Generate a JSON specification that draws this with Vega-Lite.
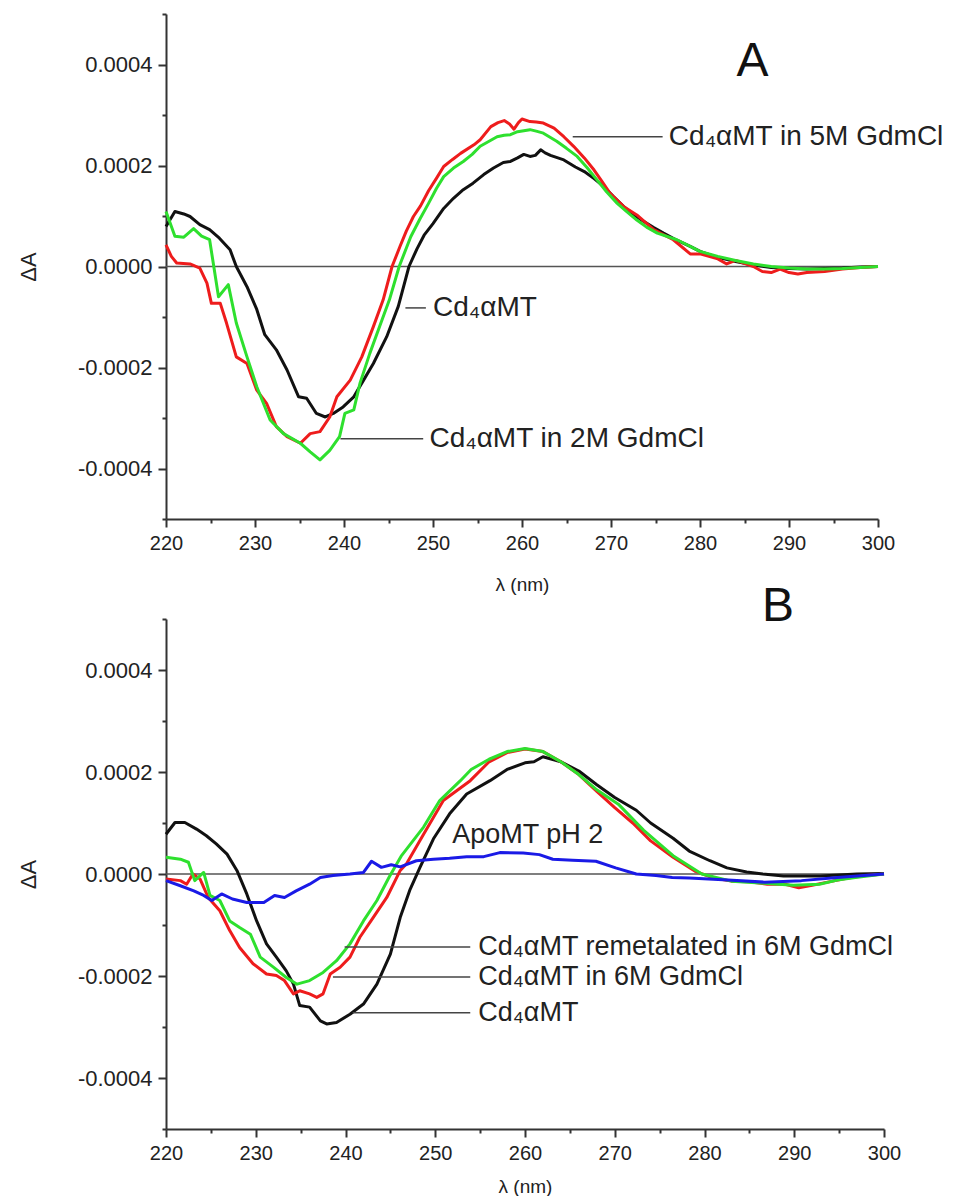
{
  "$schema": "https://vega.github.io/schema/vega-lite/v6.json",
  "padding": {"left": 17, "top": 3, "right": 0, "bottom": 0},
  "background": "white",
  "config": {
    "view": {"stroke": null},
    "font": "Liberation Sans",
    "concat": {"spacing": 100},
    "axis": {
      "grid": false,
      "domainColor": "#333333",
      "domainWidth": 2,
      "tickColor": "#333333",
      "tickWidth": 2,
      "labelFont": "Liberation Sans",
      "labelFontSize": 20,
      "labelColor": "#222222",
      "labelPadding": 6,
      "labelOverlap": false,
      "labelFlush": false,
      "titleFont": "Liberation Sans",
      "titleFontSize": 20,
      "titleFontWeight": "normal",
      "titleColor": "#222222"
    }
  },
  "bounds": "flush",
  "datasets": {
    "zero": [{"y": 0}],
    "curvesA": [
      {"s":"k","x":220,"y":0.79e-4},{"s":"k","x":221,"y":1.09e-4},{"s":"k","x":222,"y":1.04e-4},{"s":"k","x":222.7,"y":0.99e-4},{"s":"k","x":223.8,"y":0.83e-4},{"s":"k","x":224.9,"y":0.73e-4},{"s":"k","x":226,"y":0.56e-4},{"s":"k","x":227.2,"y":0.33e-4},{"s":"k","x":227.9,"y":0.0},{"s":"k","x":229.1,"y":-0.40e-4},{"s":"k","x":230.2,"y":-0.85e-4},{"s":"k","x":231.1,"y":-1.35e-4},{"s":"k","x":232.4,"y":-1.65e-4},{"s":"k","x":233.6,"y":-2.05e-4},{"s":"k","x":234.9,"y":-2.58e-4},{"s":"k","x":235.8,"y":-2.61e-4},{"s":"k","x":236.9,"y":-2.91e-4},{"s":"k","x":237.9,"y":-2.98e-4},{"s":"k","x":238.8,"y":-2.91e-4},{"s":"k","x":239.9,"y":-2.78e-4},{"s":"k","x":241.1,"y":-2.58e-4},{"s":"k","x":242.2,"y":-2.25e-4},{"s":"k","x":243.3,"y":-1.92e-4},{"s":"k","x":244.8,"y":-1.39e-4},{"s":"k","x":246.1,"y":-0.79e-4},{"s":"k","x":247.3,"y":0.0},{"s":"k","x":248.2,"y":0.35e-4},{"s":"k","x":249.0,"y":0.62e-4},{"s":"k","x":250.0,"y":0.85e-4},{"s":"k","x":251.2,"y":1.15e-4},{"s":"k","x":252.3,"y":1.35e-4},{"s":"k","x":253.4,"y":1.52e-4},{"s":"k","x":254.5,"y":1.65e-4},{"s":"k","x":255.7,"y":1.82e-4},{"s":"k","x":256.8,"y":1.95e-4},{"s":"k","x":257.9,"y":2.06e-4},{"s":"k","x":258.7,"y":2.08e-4},{"s":"k","x":259.5,"y":2.15e-4},{"s":"k","x":260.2,"y":2.22e-4},{"s":"k","x":260.9,"y":2.18e-4},{"s":"k","x":261.5,"y":2.20e-4},{"s":"k","x":262.1,"y":2.31e-4},{"s":"k","x":262.6,"y":2.25e-4},{"s":"k","x":263.2,"y":2.20e-4},{"s":"k","x":264.7,"y":2.11e-4},{"s":"k","x":266,"y":1.97e-4},{"s":"k","x":267,"y":1.88e-4},{"s":"k","x":268.1,"y":1.74e-4},{"s":"k","x":269.2,"y":1.58e-4},{"s":"k","x":270.3,"y":1.38e-4},{"s":"k","x":271.4,"y":1.19e-4},{"s":"k","x":272.5,"y":1.03e-4},{"s":"k","x":273.7,"y":0.89e-4},{"s":"k","x":274.8,"y":0.77e-4},{"s":"k","x":275.9,"y":0.66e-4},{"s":"k","x":277.4,"y":0.52e-4},{"s":"k","x":278.9,"y":0.40e-4},{"s":"k","x":280,"y":0.30e-4},{"s":"k","x":282,"y":0.18e-4},{"s":"k","x":284,"y":0.10e-4},{"s":"k","x":286,"y":0.03e-4},{"s":"k","x":288,"y":-0.02e-4},{"s":"k","x":290,"y":-0.04e-4},{"s":"k","x":292,"y":-0.05e-4},{"s":"k","x":294,"y":-0.04e-4},{"s":"k","x":296,"y":-0.03e-4},{"s":"k","x":298,"y":-0.01e-4},{"s":"k","x":300,"y":0.0},
      {"s":"r","x":220,"y":0.43e-4},{"s":"r","x":220.6,"y":0.20e-4},{"s":"r","x":221.2,"y":0.07e-4},{"s":"r","x":222.7,"y":0.05e-4},{"s":"r","x":223.8,"y":-0.03e-4},{"s":"r","x":224.6,"y":-0.33e-4},{"s":"r","x":225.1,"y":-0.73e-4},{"s":"r","x":226.1,"y":-0.73e-4},{"s":"r","x":226.8,"y":-1.12e-4},{"s":"r","x":227.9,"y":-1.79e-4},{"s":"r","x":229.1,"y":-1.92e-4},{"s":"r","x":230.2,"y":-2.45e-4},{"s":"r","x":231.3,"y":-2.71e-4},{"s":"r","x":232.4,"y":-3.17e-4},{"s":"r","x":233.6,"y":-3.37e-4},{"s":"r","x":235.1,"y":-3.50e-4},{"s":"r","x":236.2,"y":-3.31e-4},{"s":"r","x":237.3,"y":-3.27e-4},{"s":"r","x":238.4,"y":-2.98e-4},{"s":"r","x":239.2,"y":-2.58e-4},{"s":"r","x":240.7,"y":-2.25e-4},{"s":"r","x":242.0,"y":-1.79e-4},{"s":"r","x":243.3,"y":-1.19e-4},{"s":"r","x":244.4,"y":-0.66e-4},{"s":"r","x":245.4,"y":0.0},{"s":"r","x":246.3,"y":0.40e-4},{"s":"r","x":247.0,"y":0.70e-4},{"s":"r","x":247.8,"y":0.99e-4},{"s":"r","x":248.6,"y":1.20e-4},{"s":"r","x":249.5,"y":1.50e-4},{"s":"r","x":250.4,"y":1.75e-4},{"s":"r","x":251.2,"y":1.98e-4},{"s":"r","x":252.2,"y":2.12e-4},{"s":"r","x":253.1,"y":2.24e-4},{"s":"r","x":254.6,"y":2.41e-4},{"s":"r","x":255.3,"y":2.51e-4},{"s":"r","x":256.5,"y":2.77e-4},{"s":"r","x":257.3,"y":2.85e-4},{"s":"r","x":258.0,"y":2.89e-4},{"s":"r","x":258.6,"y":2.82e-4},{"s":"r","x":259.1,"y":2.72e-4},{"s":"r","x":259.6,"y":2.85e-4},{"s":"r","x":260.0,"y":2.92e-4},{"s":"r","x":260.9,"y":2.87e-4},{"s":"r","x":261.6,"y":2.86e-4},{"s":"r","x":262.4,"y":2.84e-4},{"s":"r","x":263.6,"y":2.74e-4},{"s":"r","x":264.7,"y":2.57e-4},{"s":"r","x":265.8,"y":2.38e-4},{"s":"r","x":267,"y":2.15e-4},{"s":"r","x":268.1,"y":1.91e-4},{"s":"r","x":269.0,"y":1.68e-4},{"s":"r","x":269.9,"y":1.45e-4},{"s":"r","x":271.4,"y":1.19e-4},{"s":"r","x":272.9,"y":1.02e-4},{"s":"r","x":274.8,"y":0.73e-4},{"s":"r","x":277.0,"y":0.53e-4},{"s":"r","x":278.9,"y":0.25e-4},{"s":"r","x":280,"y":0.25e-4},{"s":"r","x":282,"y":0.15e-4},{"s":"r","x":283,"y":0.05e-4},{"s":"r","x":284,"y":0.12e-4},{"s":"r","x":286,"y":0.0},{"s":"r","x":287,"y":-0.10e-4},{"s":"r","x":288,"y":-0.12e-4},{"s":"r","x":289,"y":-0.05e-4},{"s":"r","x":290,"y":-0.12e-4},{"s":"r","x":291,"y":-0.15e-4},{"s":"r","x":292,"y":-0.12e-4},{"s":"r","x":294,"y":-0.10e-4},{"s":"r","x":296,"y":-0.05e-4},{"s":"r","x":298,"y":-0.02e-4},{"s":"r","x":300,"y":0.0},
      {"s":"g","x":220,"y":1.09e-4},{"s":"g","x":221,"y":0.60e-4},{"s":"g","x":222,"y":0.58e-4},{"s":"g","x":223.1,"y":0.75e-4},{"s":"g","x":224,"y":0.60e-4},{"s":"g","x":224.9,"y":0.53e-4},{"s":"g","x":225.9,"y":-0.60e-4},{"s":"g","x":227,"y":-0.36e-4},{"s":"g","x":227.9,"y":-1.12e-4},{"s":"g","x":229.1,"y":-1.79e-4},{"s":"g","x":230.2,"y":-2.38e-4},{"s":"g","x":231.7,"y":-3.04e-4},{"s":"g","x":233.2,"y":-3.31e-4},{"s":"g","x":235.1,"y":-3.50e-4},{"s":"g","x":236.2,"y":-3.67e-4},{"s":"g","x":237.3,"y":-3.83e-4},{"s":"g","x":238.4,"y":-3.64e-4},{"s":"g","x":239.5,"y":-3.37e-4},{"s":"g","x":240.1,"y":-2.91e-4},{"s":"g","x":241.1,"y":-2.84e-4},{"s":"g","x":241.8,"y":-2.31e-4},{"s":"g","x":242.9,"y":-1.72e-4},{"s":"g","x":244.0,"y":-1.19e-4},{"s":"g","x":245.1,"y":-0.66e-4},{"s":"g","x":246.2,"y":0.0},{"s":"g","x":247.5,"y":0.59e-4},{"s":"g","x":248.5,"y":0.93e-4},{"s":"g","x":249.5,"y":1.25e-4},{"s":"g","x":250.4,"y":1.55e-4},{"s":"g","x":251.2,"y":1.78e-4},{"s":"g","x":252.3,"y":1.95e-4},{"s":"g","x":253.4,"y":2.08e-4},{"s":"g","x":254.4,"y":2.22e-4},{"s":"g","x":255.3,"y":2.38e-4},{"s":"g","x":256.2,"y":2.47e-4},{"s":"g","x":257.2,"y":2.57e-4},{"s":"g","x":258.0,"y":2.60e-4},{"s":"g","x":258.7,"y":2.61e-4},{"s":"g","x":259.5,"y":2.67e-4},{"s":"g","x":260.2,"y":2.69e-4},{"s":"g","x":260.9,"y":2.71e-4},{"s":"g","x":261.6,"y":2.68e-4},{"s":"g","x":262.4,"y":2.64e-4},{"s":"g","x":263.9,"y":2.48e-4},{"s":"g","x":265,"y":2.34e-4},{"s":"g","x":266.2,"y":2.18e-4},{"s":"g","x":267.3,"y":1.96e-4},{"s":"g","x":268.4,"y":1.72e-4},{"s":"g","x":269.5,"y":1.48e-4},{"s":"g","x":270.7,"y":1.25e-4},{"s":"g","x":271.8,"y":1.08e-4},{"s":"g","x":272.9,"y":0.92e-4},{"s":"g","x":274,"y":0.78e-4},{"s":"g","x":275.2,"y":0.66e-4},{"s":"g","x":277.4,"y":0.53e-4},{"s":"g","x":278.9,"y":0.40e-4},{"s":"g","x":280,"y":0.30e-4},{"s":"g","x":282,"y":0.20e-4},{"s":"g","x":284,"y":0.12e-4},{"s":"g","x":286,"y":0.05e-4},{"s":"g","x":288,"y":0.0},{"s":"g","x":290,"y":-0.03e-4},{"s":"g","x":292,"y":-0.05e-4},{"s":"g","x":294,"y":-0.05e-4},{"s":"g","x":296,"y":-0.04e-4},{"s":"g","x":298,"y":-0.02e-4},{"s":"g","x":300,"y":0.0}
    ],
    "curvesB": [
      {"s":"k","x":220,"y":0.78e-4},{"s":"k","x":221,"y":1.01e-4},{"s":"k","x":222.1,"y":1.01e-4},{"s":"k","x":223.4,"y":0.88e-4},{"s":"k","x":224.5,"y":0.75e-4},{"s":"k","x":225.6,"y":0.59e-4},{"s":"k","x":226.8,"y":0.39e-4},{"s":"k","x":227.9,"y":0.07e-4},{"s":"k","x":229,"y":-0.39e-4},{"s":"k","x":230.1,"y":-0.92e-4},{"s":"k","x":231.2,"y":-1.37e-4},{"s":"k","x":232.3,"y":-1.63e-4},{"s":"k","x":233.4,"y":-1.90e-4},{"s":"k","x":234.2,"y":-2.16e-4},{"s":"k","x":234.9,"y":-2.58e-4},{"s":"k","x":236.0,"y":-2.61e-4},{"s":"k","x":237.2,"y":-2.88e-4},{"s":"k","x":237.9,"y":-2.94e-4},{"s":"k","x":239.0,"y":-2.91e-4},{"s":"k","x":240.5,"y":-2.75e-4},{"s":"k","x":242.0,"y":-2.55e-4},{"s":"k","x":243.5,"y":-2.16e-4},{"s":"k","x":245.0,"y":-1.57e-4},{"s":"k","x":246.1,"y":-0.85e-4},{"s":"k","x":247.2,"y":-0.30e-4},{"s":"k","x":248.3,"y":0.13e-4},{"s":"k","x":249.8,"y":0.69e-4},{"s":"k","x":251.6,"y":1.18e-4},{"s":"k","x":253.5,"y":1.57e-4},{"s":"k","x":256.1,"y":1.83e-4},{"s":"k","x":258,"y":2.05e-4},{"s":"k","x":260,"y":2.18e-4},{"s":"k","x":261,"y":2.20e-4},{"s":"k","x":262,"y":2.30e-4},{"s":"k","x":263,"y":2.25e-4},{"s":"k","x":264,"y":2.20e-4},{"s":"k","x":266,"y":2.02e-4},{"s":"k","x":268,"y":1.75e-4},{"s":"k","x":270,"y":1.50e-4},{"s":"k","x":272.4,"y":1.25e-4},{"s":"k","x":274,"y":1.00e-4},{"s":"k","x":276.5,"y":0.70e-4},{"s":"k","x":278.3,"y":0.45e-4},{"s":"k","x":280.6,"y":0.26e-4},{"s":"k","x":282.5,"y":0.12e-4},{"s":"k","x":284.7,"y":0.04e-4},{"s":"k","x":286.5,"y":0.0},{"s":"k","x":288.8,"y":-0.04e-4},{"s":"k","x":292.9,"y":-0.04e-4},{"s":"k","x":297,"y":0.0},{"s":"k","x":300,"y":0.01e-4},
      {"s":"r","x":220,"y":-0.10e-4},{"s":"r","x":221.6,"y":-0.13e-4},{"s":"r","x":222.3,"y":-0.20e-4},{"s":"r","x":223.0,"y":0.0},{"s":"r","x":223.8,"y":-0.10e-4},{"s":"r","x":224.7,"y":-0.46e-4},{"s":"r","x":226.0,"y":-0.72e-4},{"s":"r","x":227.1,"y":-1.11e-4},{"s":"r","x":228.2,"y":-1.44e-4},{"s":"r","x":229.7,"y":-1.76e-4},{"s":"r","x":231.2,"y":-1.96e-4},{"s":"r","x":232.3,"y":-1.99e-4},{"s":"r","x":233.2,"y":-2.09e-4},{"s":"r","x":234.2,"y":-2.35e-4},{"s":"r","x":234.9,"y":-2.29e-4},{"s":"r","x":236.0,"y":-2.35e-4},{"s":"r","x":236.8,"y":-2.42e-4},{"s":"r","x":237.5,"y":-2.35e-4},{"s":"r","x":238.3,"y":-1.96e-4},{"s":"r","x":239.4,"y":-1.83e-4},{"s":"r","x":240.5,"y":-1.63e-4},{"s":"r","x":241.6,"y":-1.24e-4},{"s":"r","x":243.1,"y":-0.85e-4},{"s":"r","x":244.6,"y":-0.46e-4},{"s":"r","x":246.1,"y":0.07e-4},{"s":"r","x":246.8,"y":0.20e-4},{"s":"r","x":248.7,"y":0.78e-4},{"s":"r","x":250.9,"y":1.44e-4},{"s":"r","x":253.9,"y":1.83e-4},{"s":"r","x":256,"y":2.20e-4},{"s":"r","x":258,"y":2.38e-4},{"s":"r","x":260,"y":2.45e-4},{"s":"r","x":262,"y":2.40e-4},{"s":"r","x":264,"y":2.20e-4},{"s":"r","x":266,"y":1.95e-4},{"s":"r","x":268,"y":1.62e-4},{"s":"r","x":270,"y":1.30e-4},{"s":"r","x":272,"y":1.00e-4},{"s":"r","x":274,"y":0.65e-4},{"s":"r","x":276.5,"y":0.33e-4},{"s":"r","x":279,"y":0.05e-4},{"s":"r","x":281,"y":-0.08e-4},{"s":"r","x":283,"y":-0.14e-4},{"s":"r","x":285,"y":-0.15e-4},{"s":"r","x":287,"y":-0.20e-4},{"s":"r","x":289,"y":-0.20e-4},{"s":"r","x":290.5,"y":-0.27e-4},{"s":"r","x":292,"y":-0.22e-4},{"s":"r","x":294,"y":-0.15e-4},{"s":"r","x":296,"y":-0.08e-4},{"s":"r","x":298,"y":-0.03e-4},{"s":"r","x":300,"y":0.0},
      {"s":"g","x":220,"y":0.33e-4},{"s":"g","x":221.6,"y":0.29e-4},{"s":"g","x":222.5,"y":0.23e-4},{"s":"g","x":223.2,"y":-0.13e-4},{"s":"g","x":224.2,"y":0.03e-4},{"s":"g","x":224.9,"y":-0.42e-4},{"s":"g","x":226.0,"y":-0.52e-4},{"s":"g","x":227.1,"y":-0.92e-4},{"s":"g","x":228.2,"y":-1.05e-4},{"s":"g","x":229.4,"y":-1.18e-4},{"s":"g","x":230.5,"y":-1.63e-4},{"s":"g","x":232.0,"y":-1.83e-4},{"s":"g","x":233.4,"y":-2.03e-4},{"s":"g","x":234.6,"y":-2.16e-4},{"s":"g","x":236.0,"y":-2.09e-4},{"s":"g","x":237.5,"y":-1.93e-4},{"s":"g","x":239.0,"y":-1.70e-4},{"s":"g","x":240.5,"y":-1.37e-4},{"s":"g","x":242.0,"y":-0.92e-4},{"s":"g","x":243.5,"y":-0.52e-4},{"s":"g","x":244.9,"y":-0.05e-4},{"s":"g","x":246.2,"y":0.35e-4},{"s":"g","x":248.7,"y":0.92e-4},{"s":"g","x":250.5,"y":1.44e-4},{"s":"g","x":252.8,"y":1.83e-4},{"s":"g","x":254,"y":2.05e-4},{"s":"g","x":256,"y":2.25e-4},{"s":"g","x":258,"y":2.40e-4},{"s":"g","x":260,"y":2.46e-4},{"s":"g","x":262,"y":2.40e-4},{"s":"g","x":264,"y":2.20e-4},{"s":"g","x":266,"y":1.95e-4},{"s":"g","x":268,"y":1.65e-4},{"s":"g","x":270.4,"y":1.37e-4},{"s":"g","x":273.2,"y":0.86e-4},{"s":"g","x":276.5,"y":0.36e-4},{"s":"g","x":279.7,"y":0.0},{"s":"g","x":283,"y":-0.14e-4},{"s":"g","x":286.7,"y":-0.18e-4},{"s":"g","x":289.9,"y":-0.22e-4},{"s":"g","x":292.8,"y":-0.20e-4},{"s":"g","x":294.8,"y":-0.12e-4},{"s":"g","x":296.8,"y":-0.07e-4},{"s":"g","x":300,"y":0.0},
      {"s":"b","x":220,"y":-0.13e-4},{"s":"b","x":221.6,"y":-0.23e-4},{"s":"b","x":223.1,"y":-0.33e-4},{"s":"b","x":224.2,"y":-0.42e-4},{"s":"b","x":225.1,"y":-0.52e-4},{"s":"b","x":226.2,"y":-0.39e-4},{"s":"b","x":227.4,"y":-0.49e-4},{"s":"b","x":229,"y":-0.56e-4},{"s":"b","x":230.9,"y":-0.56e-4},{"s":"b","x":232.1,"y":-0.42e-4},{"s":"b","x":233.2,"y":-0.46e-4},{"s":"b","x":234.5,"y":-0.33e-4},{"s":"b","x":236,"y":-0.20e-4},{"s":"b","x":237.2,"y":-0.07e-4},{"s":"b","x":238.6,"y":-0.03e-4},{"s":"b","x":240.5,"y":0.0},{"s":"b","x":242,"y":0.03e-4},{"s":"b","x":242.9,"y":0.25e-4},{"s":"b","x":244,"y":0.13e-4},{"s":"b","x":245.1,"y":0.18e-4},{"s":"b","x":246.1,"y":0.14e-4},{"s":"b","x":247.9,"y":0.26e-4},{"s":"b","x":249.8,"y":0.29e-4},{"s":"b","x":251.6,"y":0.31e-4},{"s":"b","x":253.5,"y":0.34e-4},{"s":"b","x":255.4,"y":0.34e-4},{"s":"b","x":257.2,"y":0.42e-4},{"s":"b","x":259.8,"y":0.41e-4},{"s":"b","x":261.6,"y":0.38e-4},{"s":"b","x":263.1,"y":0.29e-4},{"s":"b","x":265.3,"y":0.27e-4},{"s":"b","x":267.9,"y":0.25e-4},{"s":"b","x":270.1,"y":0.12e-4},{"s":"b","x":272.4,"y":0.0},{"s":"b","x":274.6,"y":-0.03e-4},{"s":"b","x":276.4,"y":-0.07e-4},{"s":"b","x":278.3,"y":-0.08e-4},{"s":"b","x":282.6,"y":-0.12e-4},{"s":"b","x":286.7,"y":-0.16e-4},{"s":"b","x":290.8,"y":-0.13e-4},{"s":"b","x":294.8,"y":-0.07e-4},{"s":"b","x":300,"y":0.0}
    ],
    "leadersA": [
      {"x": 265.7, "x2": 275.8, "y": 2.57e-4},
      {"x": 246.9, "x2": 249.2, "y": -0.82e-4},
      {"x": 239.6, "x2": 248.9, "y": -3.41e-4}
    ],
    "labelsA": [
      {"x": 276.5, "y": 2.57e-4, "t": "Cd₄αMT in 5M GdmCl"},
      {"x": 250.0, "y": -0.82e-4, "t": "Cd₄αMT"},
      {"x": 249.6, "y": -3.41e-4, "t": "Cd₄αMT in 2M GdmCl"}
    ],
    "letterA": [{"x": 285.9, "y": 4.04e-4, "t": "A"}],
    "leadersB": [
      {"x": 239.9, "x2": 253.9, "y": -1.43e-4},
      {"x": 238.6, "x2": 253.9, "y": -2.02e-4},
      {"x": 240.8, "x2": 253.9, "y": -2.72e-4}
    ],
    "labelsB": [
      {"x": 251.9, "y": 0.76e-4, "t": "ApoMT pH 2"},
      {"x": 254.8, "y": -1.43e-4, "t": "Cd₄αMT remetalated in 6M GdmCl"},
      {"x": 254.8, "y": -2.02e-4, "t": "Cd₄αMT in 6M GdmCl"},
      {"x": 254.8, "y": -2.72e-4, "t": "Cd₄αMT"}
    ],
    "letterB": [{"x": 288.2, "y": 5.24e-4, "t": "B"}]
  },
  "vconcat": [
    {
      "width": 712,
      "height": 505,
      "layer": [
        {
          "data": {"name": "zero"},
          "mark": {"type": "rule", "color": "#555555", "strokeWidth": 1.5},
          "encoding": {"y": {"field": "y", "type": "quantitative", "scale": {"domain": [-0.0005, 0.0005], "nice": false, "zero": false}}}
        },
        {
          "data": {"name": "curvesA"},
          "mark": {"type": "line", "strokeWidth": 3, "strokeJoin": "round"},
          "encoding": {
            "x": {"field": "x", "type": "quantitative", "scale": {"domain": [220, 300], "nice": false, "zero": false},
              "axis": {"title": "λ (nm)", "values": [220,225,230,235,240,245,250,255,260,265,270,275,280,285,290,295,300],
                "labelExpr": "datum.value % 10 === 0 ? datum.label : ''",
                "tickSize": {"condition": {"test": "datum.value % 10 === 0", "value": 8}, "value": 4},
                "titlePadding": 22, "titleFontSize": 19}},
            "y": {"field": "y", "type": "quantitative", "scale": {"domain": [-0.0005, 0.0005], "nice": false, "zero": false},
              "axis": {"title": "ΔA", "values": [-0.0005,-0.0004,-0.0003,-0.0002,-0.0001,0,0.0001,0.0002,0.0003,0.0004,0.0005],
                "labelExpr": "abs(round(datum.value*10000)) % 2 === 0 ? replace(format(round(datum.value*10000)/10000, '.4f'), '\u2212', '-') : ''",
                "tickSize": {"condition": {"test": "abs(round(datum.value*10000)) % 2 === 0", "value": 8}, "value": 4},
                "labelFontSize": 22, "titleFontSize": 22, "titlePadding": 37}},
            "color": {"field": "s", "type": "nominal", "scale": {"domain": ["g", "r", "k", "b"], "range": ["#2ee02e", "#ee1c1c", "#111111", "#1a1ae6"]}, "legend": null}
          }
        },
        {
          "data": {"name": "leadersA"},
          "mark": {"type": "rule", "color": "#444444", "strokeWidth": 1.5},
          "encoding": {
            "x": {"field": "x", "type": "quantitative", "scale": {"domain": [220, 300], "nice": false, "zero": false}},
            "x2": {"field": "x2"},
            "y": {"field": "y", "type": "quantitative", "scale": {"domain": [-0.0005, 0.0005], "nice": false, "zero": false}}
          }
        },
        {
          "data": {"name": "labelsA"},
          "mark": {"type": "text", "align": "left", "baseline": "middle", "fontSize": 28, "font": "Liberation Sans", "color": "#222222"},
          "encoding": {
            "x": {"field": "x", "type": "quantitative", "scale": {"domain": [220, 300], "nice": false, "zero": false}},
            "y": {"field": "y", "type": "quantitative", "scale": {"domain": [-0.0005, 0.0005], "nice": false, "zero": false}},
            "text": {"field": "t"}
          }
        },
        {
          "data": {"name": "letterA"},
          "mark": {"type": "text", "align": "center", "baseline": "middle", "fontSize": 48, "font": "Liberation Sans", "color": "#111111"},
          "encoding": {
            "x": {"field": "x", "type": "quantitative", "scale": {"domain": [220, 300], "nice": false, "zero": false}},
            "y": {"field": "y", "type": "quantitative", "scale": {"domain": [-0.0005, 0.0005], "nice": false, "zero": false}},
            "text": {"field": "t"}
          }
        }
      ]
    },
    {
      "width": 718,
      "height": 510,
      "layer": [
        {
          "data": {"name": "zero"},
          "mark": {"type": "rule", "color": "#555555", "strokeWidth": 1.5},
          "encoding": {"y": {"field": "y", "type": "quantitative", "scale": {"domain": [-0.0005, 0.0005], "nice": false, "zero": false}}}
        },
        {
          "data": {"name": "curvesB"},
          "mark": {"type": "line", "strokeWidth": 3, "strokeJoin": "round"},
          "encoding": {
            "x": {"field": "x", "type": "quantitative", "scale": {"domain": [220, 300], "nice": false, "zero": false},
              "axis": {"title": "λ (nm)", "values": [220,225,230,235,240,245,250,255,260,265,270,275,280,285,290,295,300],
                "labelExpr": "datum.value % 10 === 0 ? datum.label : ''",
                "tickSize": {"condition": {"test": "datum.value % 10 === 0", "value": 8}, "value": 4},
                "titlePadding": 14, "titleFontSize": 19}},
            "y": {"field": "y", "type": "quantitative", "scale": {"domain": [-0.0005, 0.0005], "nice": false, "zero": false},
              "axis": {"title": "ΔA", "values": [-0.0005,-0.0004,-0.0003,-0.0002,-0.0001,0,0.0001,0.0002,0.0003,0.0004,0.0005],
                "labelExpr": "abs(round(datum.value*10000)) % 2 === 0 ? replace(format(round(datum.value*10000)/10000, '.4f'), '\u2212', '-') : ''",
                "tickSize": {"condition": {"test": "abs(round(datum.value*10000)) % 2 === 0", "value": 8}, "value": 4},
                "labelFontSize": 22, "titleFontSize": 22, "titlePadding": 37}},
            "color": {"field": "s", "type": "nominal", "scale": {"domain": ["g", "r", "k", "b"], "range": ["#2ee02e", "#ee1c1c", "#111111", "#1a1ae6"]}, "legend": null}
          }
        },
        {
          "data": {"name": "leadersB"},
          "mark": {"type": "rule", "color": "#444444", "strokeWidth": 1.5},
          "encoding": {
            "x": {"field": "x", "type": "quantitative", "scale": {"domain": [220, 300], "nice": false, "zero": false}},
            "x2": {"field": "x2"},
            "y": {"field": "y", "type": "quantitative", "scale": {"domain": [-0.0005, 0.0005], "nice": false, "zero": false}}
          }
        },
        {
          "data": {"name": "labelsB"},
          "mark": {"type": "text", "align": "left", "baseline": "middle", "fontSize": 27, "font": "Liberation Sans", "color": "#222222"},
          "encoding": {
            "x": {"field": "x", "type": "quantitative", "scale": {"domain": [220, 300], "nice": false, "zero": false}},
            "y": {"field": "y", "type": "quantitative", "scale": {"domain": [-0.0005, 0.0005], "nice": false, "zero": false}},
            "text": {"field": "t"}
          }
        },
        {
          "data": {"name": "letterB"},
          "mark": {"type": "text", "align": "center", "baseline": "middle", "fontSize": 48, "font": "Liberation Sans", "color": "#111111"},
          "encoding": {
            "x": {"field": "x", "type": "quantitative", "scale": {"domain": [220, 300], "nice": false, "zero": false}},
            "y": {"field": "y", "type": "quantitative", "scale": {"domain": [-0.0005, 0.0005], "nice": false, "zero": false}},
            "text": {"field": "t"}
          }
        }
      ]
    }
  ]
}
